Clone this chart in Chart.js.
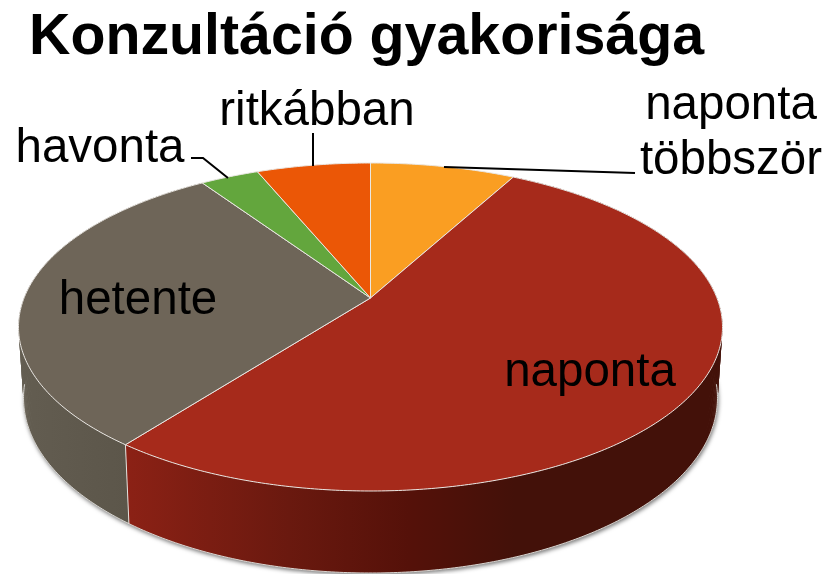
<!DOCTYPE html>
<html>
<head>
<meta charset="utf-8">
<title>Konzultáció gyakorisága</title>
<script src="https://cdn.jsdelivr.net/npm/chart.js@4"></script>
<style>
  html, body { margin: 0; padding: 0; background: #fff; }
  canvas { display: block; }
</style>
</head>
<body>
<canvas id="myPieChart" width="838" height="574"></canvas>
<script>
// percent of the full circle
const categories = ['naponta többször', 'naponta', 'hetente', 'havonta', 'ritkábban'];
const values = [7.9, 52.5, 30.2, 3.2, 6.2];
const sliceColors = ['#fa9e22', '#a62a1b', '#6e6558', '#63a63d', '#eb5706'];
const chartTitle = 'Konzultáció gyakorisága';

// where the disc lands on the page
const topRim = { x: 370.5, y: 327, rx: 352, ry: 164 };
const bottomRim = { x: 370.5, y: 398, rx: 347, ry: 175 };
const tilt = -0.177; // moves the centre of the disc up, like perspective

const wallShades = [
  null,
  [[0, '#8b2115'], [0.27, '#6a190f'], [0.47, '#551109'], [0.65, '#431109'], [1, '#431109']],
  [[0, '#635d51'], [1, '#575145']],
  null,
  null
];

// slice labels: text position and optional leader line
const labelSpots = [
  { x: 731, y: 103, line: [[444, 167], [635, 173]] },
  { x: 590, y: 370 },
  { x: 138, y: 298 },
  { x: 100, y: 146, line: [[191, 158], [203, 158], [228, 178]] },
  { x: 317, y: 109, line: [[313, 133], [313, 166]] }
];

function project(rim, angle) {
  const ux = Math.cos(angle);
  const uy = Math.sin(angle);
  const w = 1 + tilt * uy;
  return {
    x: rim.x + rim.rx * ux * Math.sqrt(1 - tilt * tilt) / w,
    y: rim.y + rim.ry * (uy + tilt) / w
  };
}

function traceRim(ctx, rim, from, to) {
  const steps = Math.max(2, Math.ceil(Math.abs(to - from) / 0.01));
  for (let i = 0; i <= steps; i++) {
    const p = project(rim, from + (to - from) * i / steps);
    ctx.lineTo(p.x, p.y);
  }
}

const tiltedPie = {
  id: 'tiltedPie',
  beforeDatasetDraw(chart, args) {
    const ctx = chart.ctx;
    const arcs = args.meta.data;
    ctx.save();
    ctx.lineJoin = 'round';

    // soft shadow under the disc
    ctx.save();
    ctx.shadowColor = 'rgba(0,0,0,0.55)';
    ctx.shadowBlur = 4;
    ctx.shadowOffsetX = 1;
    ctx.shadowOffsetY = 2;
    ctx.fillStyle = '#fff';
    ctx.beginPath();
    traceRim(ctx, bottomRim, 0, Math.PI * 2);
    ctx.closePath();
    ctx.fill();
    ctx.restore();

    // side walls, only two slices show one. thin overlapping strips so the
    // silhouette stays straight where the two rims cross
    arcs.forEach((arc, i) => {
      if (!wallShades[i]) return;
      const p = arc.getProps(['startAngle', 'endAngle'], true);
      const left = project(bottomRim, p.endAngle).x;
      const grad = i === 1
        ? ctx.createLinearGradient(left, 0, topRim.x + topRim.rx, 0)
        : ctx.createLinearGradient(topRim.x - topRim.rx, 0, left, 0);
      wallShades[i].forEach(s => grad.addColorStop(s[0], s[1]));
      ctx.fillStyle = grad;
      const step = 0.01;
      for (let t = p.startAngle; t < p.endAngle; t += step) {
        const t2 = Math.min(t + step * 2, p.endAngle);
        ctx.beginPath();
        traceRim(ctx, topRim, t, t2);
        traceRim(ctx, bottomRim, t2, t);
        ctx.closePath();
        ctx.fill();
      }
    });

    // pale line along the foot of the wall
    ctx.strokeStyle = '#d8d6d2';
    ctx.lineWidth = 1;
    ctx.beginPath();
    traceRim(ctx, bottomRim, 0.1, Math.PI - 0.1);
    ctx.stroke();

    // white seam between the two walls
    const seam = arcs[1].getProps(['endAngle'], true).endAngle;
    const a = project(topRim, seam);
    const b = project(bottomRim, seam);
    ctx.strokeStyle = '#e4e2de';
    ctx.beginPath();
    ctx.moveTo(a.x, a.y);
    ctx.lineTo(b.x, b.y);
    ctx.stroke();

    // top faces
    const apex = { x: topRim.x, y: topRim.y + topRim.ry * tilt };
    arcs.forEach(arc => {
      const p = arc.getProps(['startAngle', 'endAngle'], true);
      ctx.beginPath();
      ctx.moveTo(apex.x, apex.y);
      traceRim(ctx, topRim, p.startAngle, p.endAngle);
      ctx.closePath();
      ctx.fillStyle = arc.options.backgroundColor;
      ctx.fill();
      ctx.strokeStyle = arc.options.borderColor;
      ctx.lineWidth = arc.options.borderWidth;
      ctx.stroke();
    });
    ctx.restore();
    return false;
  },
  afterDraw(chart) {
    const ctx = chart.ctx;
    ctx.save();
    ctx.fillStyle = '#000';
    ctx.strokeStyle = '#000';
    ctx.lineWidth = 2;
    ctx.font = '47.5px "Liberation Sans"';
    ctx.textAlign = 'center';
    ctx.textBaseline = 'alphabetic';
    categories.forEach((name, i) => {
      const spot = labelSpots[i];
      const lines = i === 0 ? name.split(' ') : [name];
      lines.forEach((t, n) => ctx.fillText(t, spot.x, spot.y + 55 * n + 16));
      if (spot.line) {
        ctx.beginPath();
        spot.line.forEach((pt, n) => n ? ctx.lineTo(pt[0], pt[1]) : ctx.moveTo(pt[0], pt[1]));
        ctx.stroke();
      }
    });
    ctx.restore();
  }
};

const pieData = {
  labels: categories,
  datasets: [{
    data: values,
    backgroundColor: sliceColors,
    borderColor: '#e9e6e2',
    borderWidth: 1
  }]
};

const pieConfig = {
  type: 'pie',
  data: pieData,
  options: {
    responsive: false,
    animation: false,
    layout: { padding: { left: 29 } },
    plugins: {
      legend: { display: false },
      tooltip: { enabled: false },
      title: {
        display: true,
        text: chartTitle,
        align: 'start',
        color: '#000',
        font: { family: '"Liberation Sans"', size: 57.3, weight: 'bold' },
        padding: { top: 4, bottom: 10 }
      }
    }
  },
  plugins: [tiltedPie]
};

const myPieChart = new Chart(document.getElementById('myPieChart'), pieConfig);
</script>
</body>
</html>
